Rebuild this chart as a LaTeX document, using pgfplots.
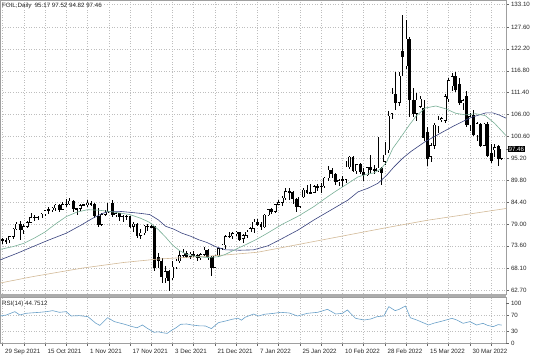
\documentclass[border=0pt]{standalone}
\usepackage{fontspec}
\setmainfont{Liberation Sans}
\usepackage{pgfplots}
\usepackage{pgfplotstable}
\pgfplotsset{compat=1.18}
\newcommand\fs{\fontsize{6.2}{7.2}\selectfont}
\definecolor{maF}{RGB}{120,175,150}
\definecolor{maS}{RGB}{55,65,125}
\definecolor{maL}{RGB}{210,185,150}
\definecolor{rsiC}{RGB}{105,160,200}
\definecolor{gridC}{RGB}{190,190,190}

\pgfplotstableread{
i o h l c
0 75.3 75.6 74.0 74.8
1 74.8 75.6 74.1 75.0
2 75.0 76.0 74.2 75.9
3 75.9 78.0 75.3 77.7
4 77.7 79.5 77.4 79.0
5 79.0 79.8 75.0 77.5
6 77.5 78.9 76.6 78.4
7 78.4 79.8 77.9 79.4
8 79.4 81.6 79.1 80.6
9 80.6 81.2 79.7 80.7
10 80.7 81.0 79.9 80.5
11 80.5 81.6 80.4 81.4
12 81.4 82.4 81.0 82.3
13 82.3 83.1 81.5 82.5
14 82.5 83.2 81.9 82.9
15 82.9 83.9 82.1 83.7
16 83.7 84.0 82.0 82.6
17 82.6 84.3 82.4 83.8
18 83.8 85.1 83.1 83.9
19 83.9 85.4 83.6 84.6
20 84.6 84.8 82.0 82.7
21 82.7 83.0 81.2 82.8
22 82.8 83.9 82.2 83.6
23 83.6 84.0 83.4 83.8
24 83.8 84.9 83.1 84.1
25 84.1 84.7 83.3 83.9
26 83.9 84.1 80.5 80.9
27 80.9 83.0 78.3 78.8
28 78.8 81.7 78.5 81.3
29 81.3 82.5 80.9 81.9
30 81.9 84.2 81.6 84.1
31 84.1 84.9 80.7 81.3
32 81.3 82.0 80.8 81.6
33 81.6 81.8 79.8 80.8
34 80.8 81.1 79.5 80.9
35 80.9 81.3 80.0 80.8
36 80.8 81.0 78.0 78.4
37 78.4 79.4 76.9 79.0
38 79.0 79.3 75.6 76.1
39 76.1 77.8 75.3 76.8
40 76.8 78.8 76.3 78.5
41 78.5 78.9 77.3 78.4
42 78.4 78.7 78.0 78.3
43 78.3 78.4 67.4 68.2
44 70.8 71.9 68.0 69.9
45 69.9 70.7 64.4 65.9
46 65.6 68.5 64.5 67.3
47 67.3 67.7 62.5 65.0
48 65.6 69.8 65.2 68.4
49 68.4 70.3 67.8 69.8
50 69.8 72.4 69.4 71.2
51 71.2 72.9 70.6 71.8
52 71.8 72.3 70.5 70.9
53 70.9 72.0 70.3 71.6
54 71.6 72.4 70.9 71.2
55 71.2 71.6 69.8 70.6
56 70.6 71.8 70.0 71.5
57 71.5 73.2 71.2 72.6
58 72.6 72.7 70.0 70.8
59 70.8 71.0 66.2 68.3
60 68.3 71.3 68.1 71.1
61 71.1 73.0 70.8 72.9
62 72.9 74.0 72.5 73.8
63 73.8 76.3 72.9 75.9
64 75.9 76.9 75.4 76.0
65 76.0 77.0 75.3 76.6
66 76.6 77.3 76.0 77.0
67 77.0 77.1 74.9 75.2
68 75.4 76.5 74.3 76.1
69 76.1 77.6 75.6 77.0
70 77.0 78.2 76.9 77.9
71 77.9 80.2 76.8 79.5
72 79.5 80.1 78.4 78.9
73 78.9 79.4 77.5 78.2
74 78.2 81.4 78.0 81.2
75 81.2 82.7 80.9 82.6
76 82.6 83.0 81.5 82.1
77 82.1 84.0 81.6 83.8
78 83.8 84.8 83.6 84.3
79 84.3 86.0 83.4 85.4
80 85.4 87.9 84.9 87.0
81 87.0 87.9 84.9 86.9
82 86.9 87.0 83.9 85.1
83 85.1 85.5 81.9 83.3
84 83.3 85.7 83.0 85.6
85 85.6 87.9 85.3 87.4
86 87.4 88.5 86.5 86.6
87 86.6 88.8 86.4 86.8
88 86.8 88.6 86.7 88.2
89 88.2 88.9 87.1 88.2
90 88.2 89.1 86.6 88.3
91 88.3 90.6 87.9 90.3
92 90.3 93.2 89.6 92.3
93 92.3 92.7 90.4 91.3
94 91.3 91.5 88.6 89.4
95 89.4 90.2 88.4 89.7
96 89.7 90.9 88.0 89.9
97 89.9 94.6 89.1 93.1
98 93.1 95.8 92.6 95.5
99 95.5 95.8 91.8 92.1
100 92.1 93.7 91.3 93.7
101 93.7 94.0 91.4 91.8
102 91.8 92.9 89.6 91.1
103 91.1 93.0 90.9 92.9
104 92.9 96.0 91.5 92.4
105 92.4 93.6 91.2 92.1
106 92.1 100.5 91.7 92.8
107 92.8 93.0 88.5 91.6
108 94.4 99.1 93.5 96.0
109 97.3 106.8 96.5 105.6
110 106.3 112.5 105.0 111.0
111 111.0 116.5 107.0 109.0
112 109.0 116.6 108.0 115.5
113 121.5 130.5 115.5 120.3
114 118.0 129.4 117.3 124.6
115 124.5 125.2 105.4 109.6
116 109.6 112.6 105.3 106.3
117 106.3 111.2 104.4 109.6
118 108.0 110.5 107.5 109.8
119 107.6 109.5 99.5 100.2
120 101.5 102.8 93.2 95.0
121 95.6 99.0 94.4 98.3
122 98.3 104.0 97.5 103.4
123 103.1 105.6 101.5 104.7
124 104.7 105.3 104.2 105.0
125 104.5 111.0 103.8 110.4
126 109.8 114.9 109.2 114.4
127 113.0 116.2 111.8 115.4
128 115.5 116.6 111.5 112.1
129 113.5 115.0 108.3 108.8
130 108.8 109.8 107.0 109.4
131 110.4 111.8 103.0 103.4
132 103.4 106.4 102.0 105.5
133 105.9 107.0 100.8 101.0
134 101.0 104.2 99.5 103.8
135 103.6 104.0 98.0 98.4
136 98.4 103.9 98.2 103.6
137 103.6 104.1 95.5 95.8
138 96.5 98.6 94.0 94.5
139 97.4 98.8 95.5 97.8
140 98.1 98.5 93.2 95.2
141 95.17 97.52 94.82 97.46
}\candles

\pgfplotsset{
  mtbase/.style={
    scale only axis, width=506bp,
    xmin=-0.7, xmax=142.2,
    axis line style={gray!75},
    tick label style={font=\fs, text=black!85},
    every tick/.style={gray!80!black},
    tick align=outside, major tick length=2.5bp,
    ytick pos=right,
    grid=major,
    major grid style={gridC, line width=0.4bp, dash pattern=on 1bp off 1.6bp},
    xtick={0,6,...,138},
  }
}

\begin{document}
\begin{tikzpicture}[font=\fs]
\useasboundingbox (0,0) rectangle (536bp,357bp);

% ---------------- main price panel ----------------
\begin{axis}[mtbase,
  at={(0,63bp)}, anchor=south west, height=294bp,
  ymin=61.7, ymax=134.26,
  xticklabels={}, xtick style={draw=none},
  ytick={62.7,68.1,73.6,79.0,84.4,89.8,95.2,100.6,106.0,111.4,116.8,122.2,127.6,133.1},
  yticklabels={62.70,68.10,73.60,79.00,84.40,89.80,95.20,100.60,106.00,111.40,116.80,122.20,127.60,133.10},
  yticklabel style={anchor=west, xshift=-1bp},
  extra y ticks={97.46}, extra y tick labels={97.46},
  extra y tick style={grid=none, tick label style={fill=black, text=white, inner sep=0.9bp}},
]
% wicks
\addplot[draw=none, forget plot,
  error bars/.cd, y dir=both, y explicit, error mark=none,
  error bar style={draw=black, solid, line width=0.55bp}]
  table[x=i, y expr={(\thisrow{h}+\thisrow{l})/2}, y error expr={(\thisrow{h}-\thisrow{l})/2}] {\candles};
% bearish bodies
\addplot[draw=none, forget plot, restrict y to domain=0:1000,
  error bars/.cd, y dir=both, y explicit, error mark=none,
  error bar style={draw=black, solid, line width=2.9bp}]
  table[x=i, y expr={(\thisrow{c}<\thisrow{o}) ? (\thisrow{o}+\thisrow{c})/2 : -500},
        y error expr={max(abs(\thisrow{o}-\thisrow{c})/2+0.06,0.12)}] {\candles};
% bullish bodies: outline
\addplot[draw=none, forget plot, restrict y to domain=0:1000,
  error bars/.cd, y dir=both, y explicit, error mark=none,
  error bar style={draw=black, solid, line width=2.9bp}]
  table[x=i, y expr={(\thisrow{c}<\thisrow{o}) ? -500 : (\thisrow{o}+\thisrow{c})/2},
        y error expr={max(abs(\thisrow{c}-\thisrow{o})/2+0.06,0.12)}] {\candles};
% bullish bodies: white fill
\addplot[draw=none, forget plot, restrict y to domain=0:1000,
  error bars/.cd, y dir=both, y explicit, error mark=none,
  error bar style={draw=white, solid, line width=1.9bp}]
  table[x=i, y expr={(\thisrow{c}-\thisrow{o}>0.25) ? (\thisrow{o}+\thisrow{c})/2 : -500},
        y error expr={abs(\thisrow{c}-\thisrow{o})/2-0.06}] {\candles};

% 200 MA (tan)
\addplot[maL, line width=0.6bp] coordinates {
(-0.7,64.4)(8.6,66.0)(22.6,68.1)(34.4,69.5)(43.7,70.3)(53,70.8)(62.5,71.3)(72,72.0)
(84,74.0)(96,76.0)(108,78.0)(120,79.9)(130,81.2)(142.2,82.8)};
% slow MA (dark blue)
\addplot[maS, line width=0.6bp] coordinates {
(-0.7,70.1)(4,71.7)(8.6,73.4)(13,75.0)(18,76.7)(22,78.6)(25.5,80.4)(28,81.5)(30,82.1)(33,82.1)
(36.7,81.8)(39,81.6)(41.6,81.3)(44,80.0)(46.1,78.4)(48.4,77.7)(50.7,76.7)(53,76.0)(55.4,75.1)
(57.8,74.4)(60.1,73.4)(61.5,73.0)(63,72.6)(67,72.5)(70.9,72.6)(75,73.6)(79,75.4)(83.5,77.5)
(88,80.0)(92.9,82.5)(97.6,84.9)(100.4,86.9)(103.2,87.8)(106,89.0)(108.5,91.0)(110.7,93.2)
(113,95.2)(115.4,96.9)(119.2,99.2)(122.9,101.0)(127.5,103.2)(132.4,105.3)(136.5,106.4)
(138.5,106.4)(140.2,105.9)(142.2,105.1)};
% fast MA (green)
\addplot[maF, line width=0.6bp] coordinates {
(-0.7,72.7)(3,73.4)(6,74.2)(9,75.5)(12,77.0)(15,79.0)(18,80.8)(21,81.9)(24,82.5)(27,82.4)
(30,82.1)(33,81.7)(36,81.3)(39,80.4)(41.5,79.4)(44,77.6)(46,75.8)(48,73.8)(50,72.4)(52,71.5)
(55,70.9)(58,70.7)(61,70.9)(63,71.5)(66,72.8)(69,74.0)(72,75.3)(75,76.8)(79,78.9)(83.5,80.9)
(88,83.3)(91,85.2)(94,87.0)(97.6,89.0)(100.4,90.6)(103,91.3)(105,91.6)(107,92.7)(108.5,94.3)
(110.2,97.6)(112.1,99.9)(114.9,103.4)(116.8,105.6)(119.4,107.6)(122.4,108.1)(125.2,107.4)
(128,106.3)(130.8,105.9)(133.6,106.2)(136.4,105.7)(139,103.8)(142.2,100.8)};

\node[anchor=north west, inner sep=0pt, font=\fs, text=black!85] at (rel axis cs:0,1) [xshift=2bp, yshift=-2.5bp]
  {FOIL,Daily\ \ 95.17 97.52 94.82 97.46};
\end{axis}

% ---------------- RSI panel ----------------
\begin{axis}[mtbase,
  at={(0,14bp)}, anchor=south west, height=46bp,
  ymin=0, ymax=115,
  xtick pos=bottom,
  xticklabels={29 Sep 2021,,15 Oct 2021,,1 Nov 2021,,17 Nov 2021,,3 Dec 2021,,21 Dec 2021,,7 Jan 2022,,25 Jan 2022,,10 Feb 2022,,28 Feb 2022,,15 Mar 2022,,30 Mar 2022,},
  xticklabel style={anchor=north west, xshift=-0.8bp, yshift=-0.5bp},
  ytick={30,70}, yticklabels={30,70},
  yticklabel style={anchor=west, xshift=-1bp},
  extra y ticks={0,100}, extra y tick labels={0,100},
  extra y tick style={grid=none},
]
\addplot[rsiC, line width=0.6bp] coordinates {
(-0.7,67.5)(1.1,70)(3.5,78.4)(4.9,70)(6.7,74.2)(8.5,75.5)(10.5,76.7)(12.5,78.5)(14.2,80.9)
(16.1,76.7)(18,78.4)(19.4,67.5)(21.7,68.4)(24.1,65.9)(26.4,49.2)(27.5,44)(29.7,63.4)(31.6,53.4)
(34,48)(36.7,40.9)(38,38)(39.5,45.0)(40.9,36.7)(42.8,26.7)(44,28)(45.1,25.9)(46.5,24)(47.9,32.5)
(49,38)(50.3,46.7)(52,47.5)(53.5,45.0)(55.5,43)(57.3,42.5)(59,36)(61,50.9)(63,55)(64.8,59.2)
(66.5,62)(67.5,57)(68.5,64.2)(70.9,72.5)(72.3,67.5)(74.1,72)(76.5,74)(78.6,76.7)(81,75)
(83.3,67.5)(86.1,74.2)(89.0,76.7)(91.8,84.2)(94.1,72.5)(96.0,74.2)(97.4,82.5)(99.7,61.7)
(102.1,57.5)(104,60)(105.8,65.9)(107.7,67.5)(109.1,90.9)(110.9,80.9)(112,84)(113.8,92.5)
(115.2,63)(117.0,57.5)(119,50)(120.3,45.0)(122,50)(123.6,53.4)(125.5,58)(126.9,61.7)(128.3,57.5)
(130.1,49.2)(132.0,53.4)(133.9,45.0)(135.7,49.2)(137,44)(138.6,40.9)(140,46)(141,44.75)};
\node[anchor=north west, inner sep=0pt, font=\fs, text=black!85] at (rel axis cs:0,1) [xshift=2bp, yshift=-4bp]
  {RSI(14) 44.7512};
\end{axis}

% panel separator
\fill[gray!65] (0,60bp) rectangle (506bp,63bp);
\end{tikzpicture}
\end{document}
